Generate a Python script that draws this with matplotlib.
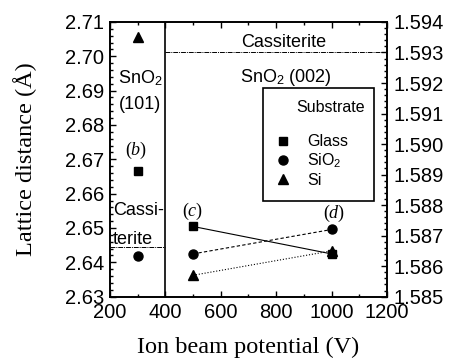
import matplotlib
matplotlib.use("Agg")
import matplotlib.pyplot as plt
from matplotlib.ticker import MultipleLocator, FormatStrFormatter
from matplotlib.lines import Line2D
from matplotlib.patches import Rectangle

# (b) panel: SnO2 (101), left axis
b_x = [300]
b_glass = [2.6667]
b_sio2 = [2.6417]
b_si = [2.7055]
cass_101 = 2.6445

# (c)/(d) panel: SnO2 (002), right axis
cd_x = [500, 1000]
cd_glass = [1.5873, 1.5864]
cd_sio2 = [1.5864, 1.5872]
cd_si = [1.5857, 1.5865]
cass_002 = 1.593

substrates = ['Glass', r'SiO$_\mathsf{2}$', 'Si']

plt.rcParams['mathtext.fontset'] = 'custom'
plt.rcParams['mathtext.rm'] = 'Liberation Serif'
plt.rcParams['mathtext.it'] = 'Liberation Serif:italic'
plt.rcParams['mathtext.sf'] = 'Liberation Sans'

sans = ['Liberation Sans', 'DejaVu Sans']
serif = ['Liberation Serif', 'DejaVu Serif']

fig = plt.figure(figsize=(4.5, 3.6), dpi=100)
ax = fig.add_axes([0.244, 0.176, 0.616, 0.763])
ax2 = ax.twinx()

ax.set_xlim(200, 1200)
ax.set_ylim(2.63, 2.71)
ax2.set_ylim(1.585, 1.594)

ax.xaxis.set_major_locator(MultipleLocator(200))
ax.xaxis.set_minor_locator(MultipleLocator(100))
ax.yaxis.set_major_locator(MultipleLocator(0.01))
ax.yaxis.set_minor_locator(MultipleLocator(0.002))
ax.yaxis.set_major_formatter(FormatStrFormatter('%.2f'))
ax2.yaxis.set_major_locator(MultipleLocator(0.001))
ax2.yaxis.set_minor_locator(MultipleLocator(0.0002))
ax2.yaxis.set_major_formatter(FormatStrFormatter('%.3f'))

for a in (ax, ax2):
    a.tick_params(which='both', direction='in', labelsize=14.5, width=1)
    a.tick_params(which='major', length=4)
    a.tick_params(which='minor', length=2)
    for lab in a.get_xticklabels() + a.get_yticklabels():
        lab.set_fontfamily(sans)
    for s in a.spines.values():
        s.set_linewidth(1.2)
ax.tick_params(axis='x', which='both', top=True)
ax.tick_params(axis='x', which='major', pad=4.5)
ax.tick_params(axis='y', which='both', right=False)
ax.tick_params(axis='y', which='major', pad=4)
ax2.tick_params(axis='y', which='both', left=False)
ax2.tick_params(axis='y', which='major', pad=5)

ax.set_xlabel('Ion beam potential (V)', family=serif, fontsize=17.5, labelpad=11)
ax.set_ylabel('Lattice distance (Å)', family=serif, fontsize=17.5, labelpad=20)

# separator
ax.axvline(400, color='black', lw=1.2)

tfs = 13
# panel (b)
ax.plot(b_x, b_glass, 's', color='black', ms=6)
ax.plot(b_x, b_sio2, 'o', color='black', ms=6.5)
ax.plot(b_x, b_si, '^', color='black', ms=7)
ax.plot([200, 400], [cass_101, cass_101], color='black', lw=0.7, ls=(0, (5, 1, 1, 1)))
ax.text(311, 2.6935, r'SnO$_\mathsf{2}$', family=sans, fontsize=tfs, ha='center', va='center')
ax.text(310, 2.6860, '(101)', family=sans, fontsize=tfs, ha='center', va='center')
ax.text(295, 2.6725, r'($b$)', family=serif, fontsize=tfs, ha='center', va='center')
ax.text(304, 2.6550, 'Cassi-', family=sans, fontsize=tfs, ha='center', va='center')
ax.text(282, 2.6466, 'terite', family=sans, fontsize=tfs, ha='center', va='center')

# panels (c),(d)
ax2.plot(cd_x, cd_glass, 's-', color='black', ms=6, lw=0.8)
ax2.plot(cd_x, cd_sio2, 'o--', color='black', ms=6.5, lw=0.8, dashes=(3, 2))
ax2.plot(cd_x, cd_si, '^:', color='black', ms=7, lw=0.8)
ax2.plot([400, 1200], [cass_002, cass_002], color='black', lw=0.7, ls=(0, (5, 1, 1, 1)))
ax2.text(828, 1.59333, 'Cassiterite', family=sans, fontsize=tfs, ha='center', va='center')
ax2.text(835, 1.59218, r'SnO$_\mathsf{2}$ (002)', family=sans, fontsize=tfs, ha='center', va='center')
ax2.text(498, 1.5878, r'($c$)', family=serif, fontsize=tfs, ha='center', va='center')
ax2.text(1008, 1.58774, r'($d$)', family=serif, fontsize=tfs, ha='center', va='center')

# legend: frame, title, entries
ax2.add_patch(Rectangle((0.552, 0.348), 0.401, 0.412, transform=ax2.transAxes,
                        facecolor='white', edgecolor='black', lw=1.2, zorder=5))
ax2.text(0.921, 0.690, 'Substrate', transform=ax2.transAxes, family=sans,
         fontsize=11.5, ha='right', va='center', zorder=6)
handles = [Line2D([], [], marker='s', ls='none', color='black', ms=6),
           Line2D([], [], marker='o', ls='none', color='black', ms=6.5),
           Line2D([], [], marker='^', ls='none', color='black', ms=7)]
leg = ax2.legend(handles, substrates, loc='center left',
                 bbox_to_anchor=(0.596, 0.494), frameon=False,
                 prop={'family': sans, 'size': 11.5}, handletextpad=1.0,
                 borderpad=0, labelspacing=0.15, handlelength=1.0,
                 borderaxespad=0)
leg.set_zorder(7)

fig.savefig('out.png', dpi=100)
